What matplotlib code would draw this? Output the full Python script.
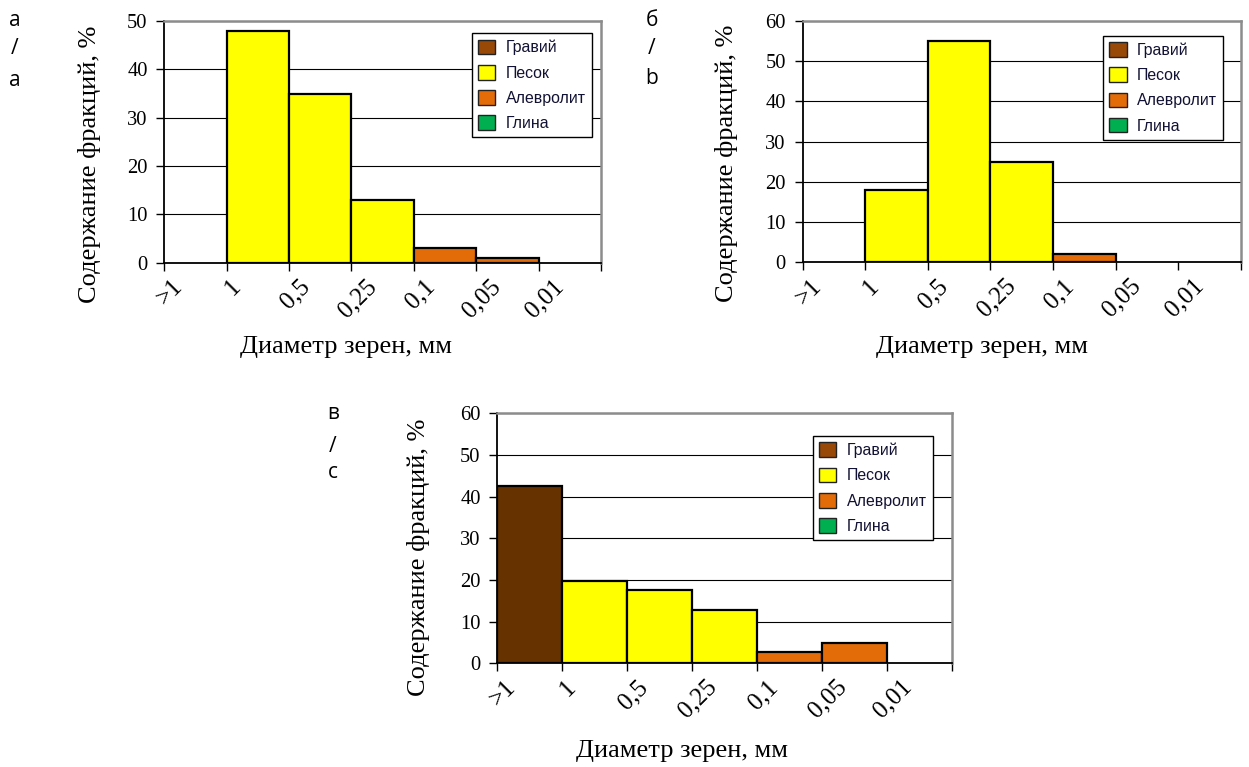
import matplotlib
matplotlib.use("Agg")
import matplotlib.pyplot as plt
import matplotlib.transforms as mtransforms
from matplotlib.patches import Patch

# ---- data ----
categories = [">1", "1", "0,5", "0,25", "0,1", "0,05", "0,01"]
series_names = ["Гравий", "Песок", "Алевролит", "Глина"]

a_gravel = [0, 0, 0, 0, 0, 0, 0]
a_sand = [0, 48, 35, 13, 0, 0, 0]
a_silt = [0, 0, 0, 0, 3, 1, 0]
a_clay = [0, 0, 0, 0, 0, 0, 0]

b_gravel = [0, 0, 0, 0, 0, 0, 0]
b_sand = [0, 18, 55, 25, 0, 0, 0]
b_silt = [0, 0, 0, 0, 2, 0, 0]
b_clay = [0, 0, 0, 0, 0, 0, 0]

c_gravel = [42.5, 0, 0, 0, 0, 0, 0]
c_sand = [0, 19.8, 17.5, 12.9, 0, 0, 0]
c_silt = [0, 0, 0, 0, 2.8, 4.8, 0]
c_clay = [0, 0, 0, 0, 0, 0, 0]

ylabel = "Содержание фракций, %"
xlabel = "Диаметр зерен, мм"

# ---- style ----
bar_colors = ["#663300", "#FFFF00", "#E36C09", "#00B050"]
legend_colors = ["#984807", "#FFFF00", "#E36C09", "#00B050"]
W, H = 1249, 767
fig = plt.figure(figsize=(W / 100, H / 100), dpi=100)

serif = "Liberation Serif"
sans = "Liberation Sans"


def px_axes(left, top, right, bottom):
    return fig.add_axes([left / W, 1 - bottom / H, (right - left) / W, (bottom - top) / H])


def draw_panel(ax, series, ymax, ystep, leg_anchor):
    n = len(categories)
    xs = list(range(n))
    for vals, col in zip(series, bar_colors):
        px = [x for x, v in zip(xs, vals) if v > 0]
        pv = [v for v in vals if v > 0]
        if px:
            ax.bar(px, pv, width=1, align="edge", color=col, edgecolor="black",
                   linewidth=1.6, zorder=3)
    ax.set_xlim(0, n)
    ax.set_ylim(0, ymax)
    ax.set_yticks(list(range(0, ymax + 1, ystep)))
    ax.set_xticks(list(range(n + 1)))
    ax.tick_params(axis="both", direction="out", length=6, width=1, color="black", pad=6)
    ax.tick_params(axis="x", pad=3)
    ax.set_xticklabels(categories + [""], rotation=45, ha="center",
                       fontfamily=serif, fontsize=18)
    for lab in ax.get_yticklabels():
        lab.set_fontfamily(serif)
        lab.set_fontsize(14.8)
    ax.yaxis.grid(True, color="black", linewidth=0.8, zorder=0)
    ax.set_axisbelow(True)
    for s in ["top", "right"]:
        ax.spines[s].set_color("#8c8c8c")
        ax.spines[s].set_linewidth(1.8)
    for s in ["left", "bottom"]:
        ax.spines[s].set_color("black")
        ax.spines[s].set_linewidth(1.3)
    ax.spines["bottom"].set_zorder(4)
    handles = [Patch(facecolor=c, edgecolor="#222222", linewidth=1.0, label=l)
               for c, l in zip(legend_colors, series_names)]
    leg = ax.legend(handles=handles, loc="upper left", bbox_to_anchor=leg_anchor,
                    borderaxespad=0, frameon=True, fancybox=False, framealpha=1,
                    edgecolor="black", prop={"family": sans, "size": 11.4},
                    handlelength=1.1, handleheight=1.05, handletextpad=0.65,
                    labelspacing=0.6, borderpad=0.4)
    leg.get_frame().set_linewidth(1.0)
    for t in leg.get_texts():
        t.set_color("#111133")
    # shift rotated tick labels a little to the right (as in the original)
    offset = mtransforms.ScaledTranslation(6 / 100, 0, fig.dpi_scale_trans)
    for tick in ax.xaxis.get_major_ticks():
        tick.label1.set_transform(tick.label1.get_transform() + offset)


# Panel a
ax_a = px_axes(164.3, 21, 601, 262.7)
draw_panel(ax_a, [a_gravel, a_sand, a_silt, a_clay], 50, 10, (0.704, 0.949))
# Panel b
ax_b = px_axes(802.5, 21, 1241, 262.3)
draw_panel(ax_b, [b_gravel, b_sand, b_silt, b_clay], 60, 10, (0.685, 0.939))
# Panel c
ax_c = px_axes(497.3, 413.3, 951.7, 663.3)
draw_panel(ax_c, [c_gravel, c_sand, c_silt, c_clay], 60, 10, (0.694, 0.909))


def ftext(x, y, s, **kw):
    fig.text(x / W, 1 - y / H, s, ha="center", va="center", **kw)


# axis titles
for (yx, yy, xx, xy) in [(90, 164, 346, 347), (727, 163, 982, 347), (419, 557, 682, 751)]:
    ftext(yx, yy, ylabel, rotation=90, fontfamily=serif, fontsize=19)
    ftext(xx, xy, xlabel, fontfamily=serif, fontsize=19)

# side labels
side = "Open Sans"
for (x, ys, labs) in [(15, (20, 48, 80), ("а", "/", "a")),
                      (652, (20, 48, 79), ("б", "/", "b")),
                      (333, (414, 446, 472), ("в", "/", "c"))]:
    for y, s in zip(ys, labs):
        ftext(x, y, s, fontfamily=side, fontsize=15)

fig.savefig("out.png", dpi=100)
